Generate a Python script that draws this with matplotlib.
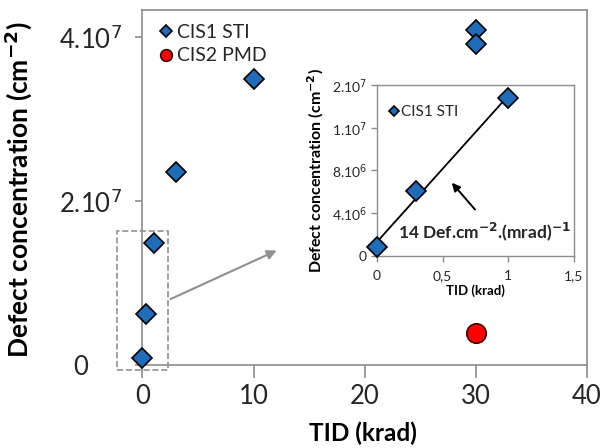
import numpy as np
import matplotlib.pyplot as plt
from matplotlib.patches import Rectangle
from matplotlib.transforms import ScaledTranslation

plt.rcParams['font.family'] = ['Lato', 'DejaVu Sans']

# main chart data
tid_sti = [0, 0.3, 1, 3, 10, 30, 30]
def_sti = [0.9e6, 6.2e6, 14.9e6, 23.6e6, 34.9e6, 40.9e6, 39.1e6]
tid_pmd = [30]
def_pmd = [3.9e6]

# inset data (low dose zoom)
tid_low = [0, 0.3, 1]
def_low = [0.85e6, 6.1e6, 14.8e6]

main_yticks = [0, 2e7, 4e7]
main_ylabels = ['0', '2.10$^7$', '4.10$^7$']
inset_yticks = [0, 4e6, 8e6, 1.2e7, 1.6e7]
inset_ylabels = ['0', '4.10$^6$', '8.10$^6$', '1.10$^7$', '2.10$^7$']
inset_xticks = [0, 0.5, 1, 1.5]
inset_xlabels = ['0', '0,5', '1', '1,5']

blue = '#1f6cb8'
spine_col = '#8c8c8c'
txt_col = '#262626'

fig = plt.figure(figsize=(6.03, 4.48), dpi=100)
ax = fig.add_axes([0.2363, 0.1853, 0.7372, 0.7924])

ax.plot(tid_sti, def_sti, ls='none', marker='D', ms=10.5, mfc=blue, mec='black',
        mew=1.2, clip_on=False, zorder=5, label='CIS1 STI')
ax.plot(tid_pmd, def_pmd, ls='none', marker='o', ms=14, mfc='#ff0000', mec='#3a0000',
        mew=1.2, clip_on=False, zorder=5, label='CIS2 PMD')

ax.set_xlim(0, 40)
ax.set_ylim(0, 4.33e7)
ax.set_xticks([0, 10, 20, 30, 40])
ax.set_yticks(main_yticks)
ax.set_yticklabels(main_ylabels)
for s in ax.spines.values():
    s.set_color(spine_col)
    s.set_linewidth(1.2)
ax.tick_params(axis='x', direction='out', length=9, width=1.2, color=spine_col,
               labelsize=18.5, labelcolor=txt_col, pad=5)
ax.tick_params(axis='y', direction='out', length=5, width=1.2, color=spine_col,
               labelsize=18.5, labelcolor=txt_col, pad=10)
# the "0" label sits further left in the original
lab0 = ax.get_yticklabels()[0]
lab0.set_transform(lab0.get_transform() + ScaledTranslation(-24 / 72, 0, fig.dpi_scale_trans))
ax.set_xlabel('TID (krad)', fontsize=17.5, fontweight='bold')
ax.xaxis.set_label_coords(0.495, -0.16)
ax.set_ylabel('Defect concentration (cm$^{\\mathbf{-2}}$)', fontsize=19,
              fontweight='bold')
ax.yaxis.set_label_coords(-0.245, 0.495)

leg = ax.legend(loc='upper left', frameon=False, fontsize=14, markerscale=0.6,
                handletextpad=0.1, handlelength=1.0, borderaxespad=0.3,
                labelspacing=0.35, bbox_to_anchor=(0.0, 1.0))
for t in leg.get_texts():
    t.set_color(txt_col)

# dashed zoom box and arrow towards inset
ax.add_patch(Rectangle((-2.3, -0.6e6), 4.6, 16.9e6, fill=False, ls='--',
                       ec='#909090', lw=1.2, clip_on=False, zorder=3))
ax.annotate('', xy=(12.3, 14.1e6), xytext=(2.3, 7.9e6),
            arrowprops=dict(arrowstyle='-|>', color='#909090', lw=1.5,
                            mutation_scale=14))

# inset
ins = fig.add_axes([0.6252, 0.4286, 0.3267, 0.3817])
ins.plot(tid_low, def_low, ls='none', marker='D', ms=10.5, mfc=blue, mec='black',
         mew=1.2, clip_on=False, zorder=5, label='CIS1 STI')
k, b = np.polyfit(tid_low, def_low, 1)
xf = np.array([tid_low[0], tid_low[-1]])
ins.plot(xf, k * xf + b, color='black', lw=1.3, zorder=4)
ins.set_xlim(0, 1.5)
ins.set_ylim(0, 1.6e7)
ins.set_xticks(inset_xticks)
ins.set_xticklabels(inset_xlabels)
ins.set_yticks(inset_yticks)
ins.set_yticklabels(inset_ylabels)
for s in ins.spines.values():
    s.set_color(spine_col)
    s.set_linewidth(1.0)
ins.tick_params(direction='out', length=4, width=1.0, color=spine_col,
                labelsize=10, labelcolor=txt_col)
ins.tick_params(axis='x', pad=6)
ins.set_xlabel('TID (krad)', fontsize=9.5, fontweight='bold', labelpad=2)
ins.set_ylabel('Defect concentration (cm$^{\\mathbf{-2}}$)', fontsize=11.5,
               fontweight='bold', labelpad=4)
lg2 = ins.legend(loc='upper left', frameon=False, fontsize=11, markerscale=0.5,
                 handletextpad=0.05, handlelength=0.8, borderaxespad=0.6,
                 bbox_to_anchor=(-0.02, 0.97))
for t in lg2.get_texts():
    t.set_color(txt_col)
ins.annotate('', xy=(0.556, 7.05e6), xytext=(0.76, 4.15e6),
             arrowprops=dict(arrowstyle='-|>', color='black', lw=1.4,
                             mutation_scale=12))
ins.text(0.82, 2.3e6, '14 Def.cm$^{\\mathbf{-2}}$.(mrad)$^{\\mathbf{-1}}$',
         fontsize=12.5, fontweight='bold', ha='center', va='center', color=txt_col)

fig.savefig('out.png', dpi=100)
